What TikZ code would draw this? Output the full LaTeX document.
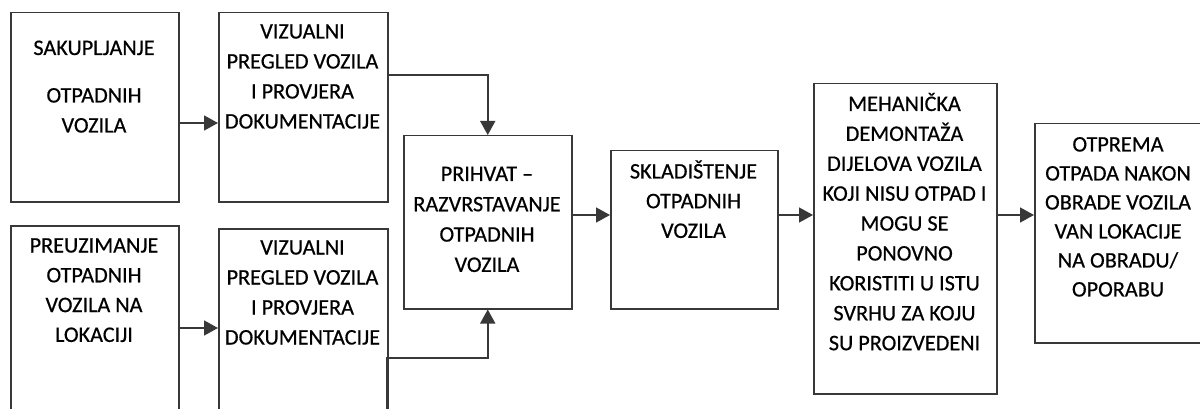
\documentclass[tikz,border=0pt]{standalone}
\usepackage{fontspec}
\setmainfont{Carlito}[RawFeature={embolden=0.5}]
\usetikzlibrary{arrows.meta}
\newcommand\txtlines[2]{{\fontsize{22.2pt}{#1}\selectfont\begin{tabular}[t]{@{}c@{}}#2\end{tabular}}}
\definecolor{ln}{gray}{0.22}
\begin{document}
\begin{tikzpicture}[x=1pt,y=-1pt,
  box/.style={draw=ln, line width=1.5pt, inner sep=0pt, anchor=north west},
  lbl/.style={anchor=base, inner sep=0pt, text=black},
  arr/.style={draw=ln, line width=1.6pt, -{Triangle[length=14pt,width=15pt]}}]
\useasboundingbox (0,0) rectangle (1200,409);
\clip (0,0) rectangle (1200,409);
% boxes
\node[box, minimum width=168pt, minimum height=189pt] (A) at (10,12) {};
\node[box, minimum width=169pt, minimum height=189pt] (B) at (218,12) {};
\node[box, minimum width=168pt, minimum height=200pt] (C) at (10,225) {};
\node[box, minimum width=169pt, minimum height=200pt] (D) at (218,228) {};
\node[box, minimum width=168pt, minimum height=173pt] (P) at (403,135) {};
\node[box, minimum width=167pt, minimum height=158pt] (S) at (610,150) {};
\node[box, minimum width=183pt, minimum height=310pt] (M) at (813,83) {};
\node[box, minimum width=181pt, minimum height=219pt] (O) at (1034,123) {};
% texts
\node[lbl] (tA1) at (94,55) {\txtlines{30pt}{SAKUPLJANJE}};
\node[lbl] (tA2) at (94,102.5) {\txtlines{30pt}{OTPADNIH\\VOZILA}};
\node[lbl] (tB) at (302.5,38.5) {\txtlines{30pt}{VIZUALNI\\PREGLED VOZILA\\I PROVJERA\\DOKUMENTACIJE}};
\node[lbl] (tC) at (94,252.5) {\txtlines{29.8pt}{PREUZIMANJE\\OTPADNIH\\VOZILA NA\\LOKACIJI}};
\node[lbl] (tD) at (302.5,254.5) {\txtlines{30pt}{VIZUALNI\\PREGLED VOZILA\\I PROVJERA\\DOKUMENTACIJE}};
\node[lbl] (tP) at (487,181) {\txtlines{30.3pt}{PRIHVAT –\\RAZVRSTAVANJE\\OTPADNIH\\VOZILA}};
\node[lbl] (tS) at (693.5,178.5) {\txtlines{29.7pt}{SKLADIŠTENJE\\OTPADNIH\\VOZILA}};
\node[lbl] (tM) at (904.5,111) {\txtlines{29.9pt}{MEHANIČKA\\DEMONTAŽA\\DIJELOVA VOZILA\\KOJI NISU OTPAD I\\MOGU SE\\PONOVNO\\KORISTITI U ISTU\\SVRHU ZA KOJU\\SU PROIZVEDENI}};
\node[lbl] (tO) at (1118,151.5) {\txtlines{29pt}{OTPREMA\\OTPADA NAKON\\OBRADE VOZILA\\VAN LOKACIJE\\NA OBRADU/\\OPORABU}};
% connectors
\draw[arr] ([yshift=-111pt]A.north east) -- ([yshift=-111pt]B.north west);
\draw[arr] ([yshift=-103pt]C.north east) -- ([yshift=-100pt]D.north west);
\draw[arr] ([yshift=-80pt]P.north east) -- ([yshift=-65pt]S.north west);
\draw[arr] ([yshift=-65pt]S.north east) -- ([yshift=-132pt]M.north west);
\draw[arr] ([yshift=-132pt]M.north east) -- ([yshift=-92pt]O.north west);
\coordinate (tstart) at ([yshift=-8pt]B.north east);
\draw[arr] (tstart) -- ++(0,55) -| (P.north);
\coordinate (bfree) at (387,412);
\draw[arr] (bfree) -- ++(0,-54) -| (P.south);
\end{tikzpicture}
\end{document}
